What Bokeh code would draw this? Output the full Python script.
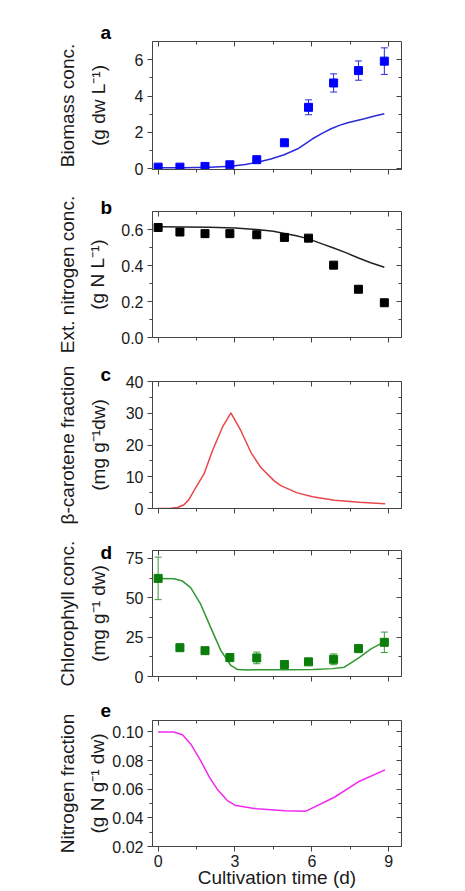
from bokeh.embed import file_html
from bokeh.layouts import column
from bokeh.models import (ColumnDataSource, FixedTicker, LinearAxis,
                          PrintfTickFormatter, Range1d, TeeHead, Title, Whisker)
from bokeh.plotting import figure
from bokeh.resources import INLINE

# ---------------------------------------------------------------- data
# sampling days of the measurements
days = [0, 0.85, 1.83, 2.8, 3.85, 4.93, 5.87, 6.85, 7.82, 8.83]

# measured biomass (g dw / L) with standard deviations
biomass = [0.09, 0.09, 0.13, 0.22, 0.50, 1.43, 3.38, 4.72, 5.40, 5.92]
biomass_err = [0, 0, 0, 0, 0, 0, 0.41, 0.50, 0.53, 0.73]

# measured external nitrogen (g N / L)
ext_nitrogen = [0.611, 0.586, 0.577, 0.577, 0.571, 0.556, 0.552, 0.402, 0.268, 0.193]

# measured chlorophyll (mg / g dw) with standard deviations
chlorophyll = [62.3, 18.3, 16.4, 12.0, 11.8, 7.6, 9.3, 10.9, 17.7, 21.7]
chlorophyll_err = [13.5, 1.5, 1.5, 2.0, 3.7, 1.5, 1.5, 3.4, 2.0, 6.5]

# model simulations
sim_biomass_t = [0, 1.0, 2.0, 2.84, 3.4, 3.88, 4.4, 4.92, 5.45, 6.03, 6.4, 6.75, 7.1, 7.4, 8.05, 8.45, 8.83]
sim_biomass = [0.05, 0.06, 0.08, 0.14, 0.24, 0.36, 0.54, 0.77, 1.10, 1.65, 1.95, 2.20, 2.40, 2.53, 2.75, 2.90, 3.03]

sim_nitrogen_t = [0, 1.0, 2.0, 3.0, 3.85, 4.5, 4.93, 5.4, 5.87, 6.4, 6.85, 7.35, 7.82, 8.3, 8.83]
sim_nitrogen = [0.615, 0.614, 0.612, 0.608, 0.600, 0.590, 0.578, 0.565, 0.548, 0.520, 0.497, 0.470, 0.442, 0.415, 0.390]

sim_carotene_t = [0, 0.5, 0.75, 1.01, 1.2, 1.4, 1.79, 2.12, 2.51, 2.84, 3.23, 3.62, 4.01, 4.53, 4.79, 5.4, 6.03, 6.88, 7.86, 8.86]
sim_carotene = [0, 0.05, 0.3, 1.2, 2.8, 5.6, 10.9, 18.2, 25.6, 30.1, 24.5, 17.7, 12.9, 8.7, 7.2, 5.0, 3.7, 2.6, 2.0, 1.5]

sim_chlorophyll_t = [0, 0.62, 0.95, 1.27, 1.66, 2.05, 2.45, 2.84, 3.1, 3.5, 4.92, 6.05, 6.8, 7.27, 7.86, 8.31, 8.86]
sim_chlorophyll = [62.3, 62.1, 60.6, 56.4, 45.9, 31.2, 16.4, 7.0, 4.4, 4.2, 4.3, 4.5, 5.0, 5.9, 12.2, 17.5, 22.3]

sim_nfrac_t = [0, 0.6, 0.95, 1.27, 1.66, 2.0, 2.3, 2.7, 3.03, 3.87, 4.95, 5.77, 6.88, 7.86, 8.86]
sim_nfrac = [0.100, 0.100, 0.0981, 0.0916, 0.080, 0.0684, 0.0602, 0.0521, 0.0486, 0.0463, 0.0449, 0.0447, 0.0544, 0.0656, 0.0735]

# ticks
x_ticks = [0, 3, 6, 9]
x_minor = [1.5, 4.5, 7.5]
x_tick_labels = ["0", "3", "6", "9"]

a_ticks, a_minor, a_labels = [0, 2, 4, 6], [1, 3, 5], ["0", "2", "4", "6"]
b_ticks, b_minor, b_labels = [0, 0.2, 0.4, 0.6], [0.1, 0.3, 0.5], ["0.0", "0.2", "0.4", "0.6"]
c_ticks, c_minor, c_labels = [0, 10, 20, 30, 40], [5, 15, 25, 35], ["0", "10", "20", "30", "40"]
d_ticks, d_minor, d_labels = [0, 25, 50, 75], [12.5, 37.5, 62.5], ["0", "25", "50", "75"]
e_ticks, e_minor, e_labels = [0.02, 0.04, 0.06, 0.08, 0.10], [0.03, 0.05, 0.07, 0.09], ["0.02", "0.04", "0.06", "0.08", "0.10"]

# ---------------------------------------------------------------- style
FONT = "Liberation Sans"
INK = "#1a1a1a"
FRAME = "#444444"
W = 465
FRAME_L, FRAME_W = 152, 249
X_RANGE = (-0.22, 9.5)
LABEL_SIZE = "19px"


def style_axis(ax, ticks, minor, labels, fmt, outward, show_labels):
    ax.ticker = FixedTicker(ticks=ticks, minor_ticks=minor)
    ax.formatter = PrintfTickFormatter(format=fmt)
    ax.major_label_overrides = {t: s for t, s in zip(ticks, labels)}
    ax.major_tick_line_color = FRAME
    ax.minor_tick_line_color = FRAME
    ax.axis_line_color = FRAME if outward else None
    if outward:
        ax.major_tick_out, ax.major_tick_in = 5, 0
        ax.minor_tick_out, ax.minor_tick_in = 3, 0
    else:
        ax.major_tick_out, ax.major_tick_in = 0, 5
        ax.minor_tick_out, ax.minor_tick_in = 0, 3
    if show_labels:
        ax.major_label_text_font = FONT
        ax.major_label_text_font_size = "16px"
        ax.major_label_text_color = INK
        ax.major_label_standoff = 4
    else:
        # mirrored tick marks only
        ax.major_label_text_font_size = "0px"
        ax.major_label_text_color = None
        ax.major_label_standoff = 0


def panel(fig_top, fig_bottom, frame_top, frame_h, y_range, ticks, minor, labels,
          fmt, line1, line2, line2_standoff, letter, letter_standoff, x_labels=False):
    height = fig_bottom - fig_top
    top = frame_top - fig_top
    p = figure(width=W, height=height,
               x_range=Range1d(*X_RANGE), y_range=Range1d(*y_range),
               output_backend="svg", toolbar_location=None,
               min_border_left=FRAME_L, min_border_right=W - FRAME_L - FRAME_W,
               min_border_top=top, min_border_bottom=height - top - frame_h,
               background_fill_color="white", border_fill_color="white",
               outline_line_color=FRAME, outline_line_width=1)
    p.grid.visible = False

    xbottom = p.xaxis[0]
    style_axis(xbottom, x_ticks, x_minor, x_tick_labels, "%d", True, x_labels)
    style_axis(p.yaxis[0], ticks, minor, labels, fmt, True, True)

    # unit line of the y title sits next to the tick labels
    yax = p.yaxis[0]
    yax.axis_label = line2
    yax.axis_label_standoff = line2_standoff
    yax.axis_label_text_font = FONT
    yax.axis_label_text_font_size = LABEL_SIZE
    yax.axis_label_text_font_style = "normal"
    yax.axis_label_text_color = INK

    # quantity line of the y title, one step further out
    outer = LinearAxis(ticker=FixedTicker(ticks=[]), axis_line_color=None,
                       major_tick_out=0, minor_tick_out=0, major_label_standoff=0,
                       axis_label=line1, axis_label_standoff=7,
                       axis_label_text_font=FONT, axis_label_text_font_size=LABEL_SIZE,
                       axis_label_text_font_style="normal", axis_label_text_color=INK)
    p.add_layout(outer, "left")

    above = LinearAxis()
    style_axis(above, x_ticks, x_minor, x_tick_labels, "%d", False, False)
    p.add_layout(above, "above")
    right = LinearAxis()
    style_axis(right, ticks, minor, labels, fmt, False, False)
    p.add_layout(right, "right")

    p.title = Title(text=letter, align="left", offset=-52, standoff=letter_standoff,
                    vertical_align="bottom", text_font=FONT, text_font_size=LABEL_SIZE,
                    text_font_style="bold", text_color="black")
    p.title_location = "above"
    return p, xbottom


def error_bars(p, x, y, err, color):
    src = ColumnDataSource(dict(x=x, upper=[v + e for v, e in zip(y, err)],
                                lower=[v - e for v, e in zip(y, err)]))
    p.add_layout(Whisker(base="x", upper="upper", lower="lower", source=src,
                         line_color=color, line_width=1,
                         upper_head=TeeHead(size=7, line_color=color, line_width=1),
                         lower_head=TeeHead(size=7, line_color=color, line_width=1)))


# a: biomass
pa, _ = panel(0, 180, 41, 128, (-0.04, 7.0), a_ticks, a_minor, a_labels, "%d",
              "Biomass conc.", "(g dw L\u207b\u00b9)", 23, "a", -2)
pa.line(sim_biomass_t, sim_biomass, line_color="#2a2ad8", line_width=1.5)
error_bars(pa, days, biomass, biomass_err, "#2a2ae0")
pa.scatter(days, biomass, marker="square", size=8, color="#0000ff")

# b: external nitrogen
pb, _ = panel(180, 353, 211, 126, (0, 0.7), b_ticks, b_minor, b_labels, "%.1f",
              "Ext. nitrogen conc.", "(g N L\u207b\u00b9)", 10, "b", -13)
pb.line(sim_nitrogen_t, sim_nitrogen, line_color="#222222", line_width=1.5)
pb.scatter(days, ext_nitrogen, marker="square", size=8, color="black")

# c: beta-carotene
pc, _ = panel(353, 530, 381, 127, (0, 40), c_ticks, c_minor, c_labels, "%d",
              "\u03b2-carotene fraction", "(mg g\u207b\u00b9dw)", 14, "c", -6)
pc.line(sim_carotene_t, sim_carotene, line_color="#e8464b", line_width=1.5)

# d: chlorophyll
pd_, _ = panel(530, 686, 550, 126, (0, 80), d_ticks, d_minor, d_labels, "%d",
               "Chlorophyll conc.", "(mg g\u207b\u00b9 dw)", 14, "d", -25)
pd_.line(sim_chlorophyll_t, sim_chlorophyll, line_color="#2f972f", line_width=1.5)
error_bars(pd_, days, chlorophyll, chlorophyll_err, "#3a9a3a")
pd_.scatter(days, chlorophyll, marker="square", size=8, color="#0b7d0b")

# e: cellular nitrogen fraction
pe, xax = panel(686, 891, 720, 126, (0.02, 0.108), e_ticks, e_minor, e_labels, "%.2f",
                "Nitrogen fraction", "(g N g\u207b\u00b9 dw)", 1, "e", 8, x_labels=True)
pe.line(sim_nfrac_t, sim_nfrac, line_color="#ee2aee", line_width=1.5)
xax.major_label_standoff = 3
xax.axis_label = "Cultivation time (d)"
xax.axis_label_standoff = -3
xax.axis_label_text_font = FONT
xax.axis_label_text_font_size = LABEL_SIZE
xax.axis_label_text_font_style = "normal"
xax.axis_label_text_color = INK

layout = column(pa, pb, pc, pd_, pe, spacing=0)

with open("out.html", "w") as f:
    f.write(file_html(layout, INLINE, title="Cultivation time course"))
